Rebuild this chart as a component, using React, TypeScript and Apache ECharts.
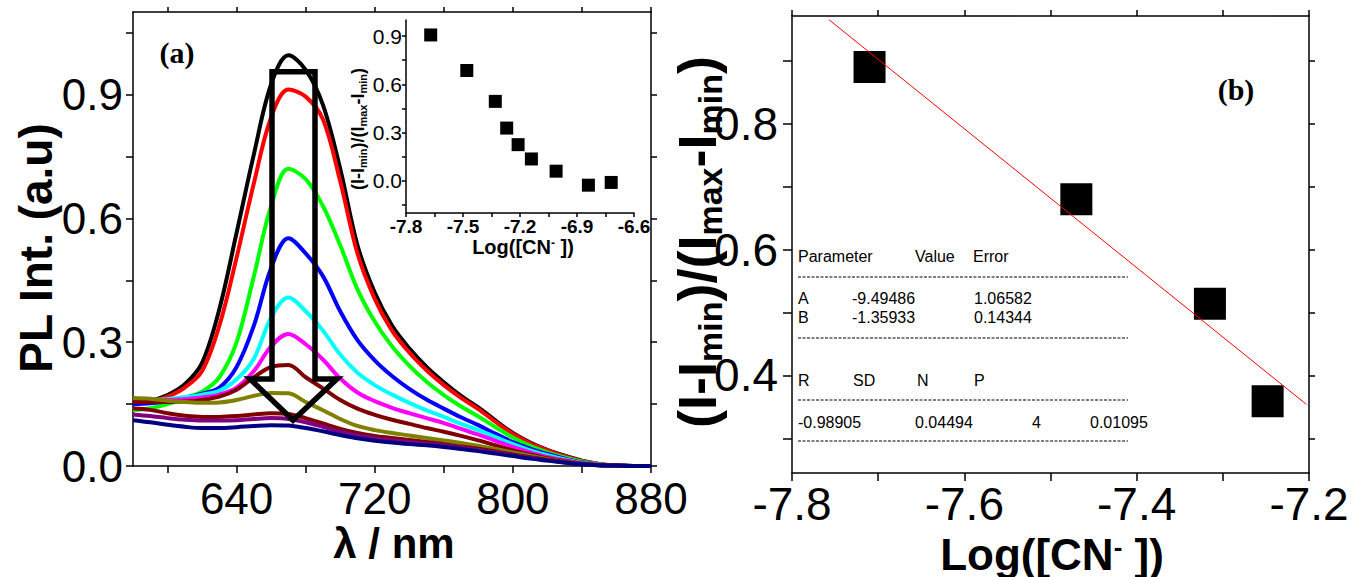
import React, { useEffect, useRef } from "react";
import * as echarts from "echarts";

// ---------- data (panel a: PL spectra) ----------
const WAVELENGTH = [580, 590, 600, 610, 620, 630, 640, 650, 660, 670, 680, 690, 700, 710, 720, 730, 740, 750, 760, 770, 780, 790, 800, 810, 820, 830, 840, 850, 860, 870, 880];
const S_BLACK = [0.150, 0.158, 0.172, 0.198, 0.250, 0.380, 0.565, 0.755, 0.925, 0.995, 0.960, 0.875, 0.720, 0.535, 0.420, 0.340, 0.285, 0.240, 0.203, 0.170, 0.142, 0.110, 0.080, 0.057, 0.039, 0.025, 0.013, 0.005, 0.001, 0, 0];
const S_RED = [0.150, 0.156, 0.168, 0.190, 0.230, 0.340, 0.505, 0.685, 0.845, 0.912, 0.895, 0.840, 0.690, 0.515, 0.405, 0.328, 0.275, 0.232, 0.196, 0.165, 0.138, 0.107, 0.078, 0.055, 0.038, 0.024, 0.012, 0.005, 0.001, 0, 0];
const S_GREEN = [0.135, 0.140, 0.150, 0.165, 0.180, 0.215, 0.300, 0.460, 0.630, 0.720, 0.695, 0.630, 0.535, 0.428, 0.350, 0.290, 0.243, 0.204, 0.172, 0.144, 0.120, 0.094, 0.069, 0.049, 0.033, 0.021, 0.011, 0.004, 0.001, 0, 0];
const S_BLUE = [0.150, 0.152, 0.157, 0.165, 0.175, 0.190, 0.240, 0.340, 0.480, 0.552, 0.515, 0.460, 0.375, 0.305, 0.256, 0.218, 0.187, 0.161, 0.139, 0.118, 0.099, 0.078, 0.058, 0.042, 0.029, 0.018, 0.009, 0.003, 0.001, 0, 0];
const S_CYAN = [0.160, 0.160, 0.162, 0.167, 0.173, 0.182, 0.210, 0.260, 0.360, 0.408, 0.375, 0.328, 0.270, 0.226, 0.196, 0.173, 0.153, 0.135, 0.119, 0.102, 0.087, 0.070, 0.053, 0.038, 0.026, 0.016, 0.008, 0.003, 0.001, 0, 0];
const S_MAGENTA = [0.160, 0.160, 0.160, 0.162, 0.166, 0.173, 0.190, 0.230, 0.290, 0.320, 0.295, 0.258, 0.212, 0.178, 0.157, 0.141, 0.128, 0.116, 0.104, 0.090, 0.076, 0.061, 0.046, 0.033, 0.022, 0.014, 0.007, 0.003, 0.001, 0, 0];
const S_MAROON1 = [0.155, 0.155, 0.155, 0.156, 0.160, 0.168, 0.185, 0.215, 0.240, 0.245, 0.215, 0.188, 0.160, 0.139, 0.124, 0.112, 0.102, 0.092, 0.083, 0.073, 0.062, 0.050, 0.038, 0.028, 0.019, 0.012, 0.006, 0.002, 0.001, 0, 0];
const S_OLIVE = [0.165, 0.163, 0.158, 0.155, 0.153, 0.154, 0.160, 0.170, 0.177, 0.176, 0.155, 0.135, 0.114, 0.097, 0.087, 0.080, 0.074, 0.068, 0.062, 0.056, 0.049, 0.041, 0.033, 0.025, 0.017, 0.011, 0.006, 0.002, 0.001, 0, 0];
const S_MAROON2 = [0.140, 0.136, 0.128, 0.122, 0.119, 0.119, 0.121, 0.125, 0.128, 0.126, 0.116, 0.103, 0.090, 0.080, 0.073, 0.068, 0.063, 0.058, 0.053, 0.047, 0.042, 0.035, 0.028, 0.021, 0.015, 0.010, 0.005, 0.002, 0.001, 0, 0];
const S_PURPLE = [0.125, 0.121, 0.116, 0.112, 0.110, 0.110, 0.111, 0.114, 0.116, 0.114, 0.106, 0.095, 0.083, 0.074, 0.067, 0.062, 0.058, 0.054, 0.050, 0.044, 0.039, 0.033, 0.026, 0.020, 0.014, 0.009, 0.005, 0.002, 0.001, 0, 0];
const S_NAVY = [0.111, 0.106, 0.100, 0.095, 0.092, 0.092, 0.094, 0.097, 0.099, 0.098, 0.092, 0.084, 0.075, 0.067, 0.061, 0.057, 0.053, 0.050, 0.046, 0.041, 0.036, 0.030, 0.024, 0.018, 0.013, 0.008, 0.004, 0.002, 0.001, 0, 0];
const SPECTRA = [S_BLACK, S_RED, S_GREEN, S_BLUE, S_CYAN, S_MAGENTA, S_MAROON1, S_OLIVE, S_MAROON2, S_PURPLE, S_NAVY];
const SPECTRA_COLORS = ["#000000", "#ff0000", "#00ff00", "#0000ff", "#00ffff", "#ff00ff", "#800000", "#808000", "#800000", "#800080", "#000080"];

// arrow annotation (nm, intensity)
const ARROW_X = [660.5, 685.4, 685.4, 698.1, 672.7, 647.8, 660.5, 660.5];
const ARROW_Y = [0.955, 0.955, 0.211, 0.211, 0.111, 0.211, 0.211, 0.955];

// inset
const INSET_X = [-7.67, -7.48, -7.33, -7.27, -7.21, -7.14, -7.01, -6.84, -6.72];
const INSET_Y = [0.907, 0.686, 0.494, 0.328, 0.225, 0.136, 0.06, -0.027, -0.01];

// panel b
const CAL_X = [-7.71, -7.47, -7.315, -7.248];
const CAL_Y = [0.89, 0.68, 0.514, 0.359];
const FIT_X = [-7.757, -7.203];
const FIT_Y = [0.965, 0.354];

// tick values
const A_X_TICKS = [600, 640, 680, 720, 760, 800, 840, 880];
const A_X_LABELS = [640, 720, 800, 880];
const A_Y_TICKS = [0, 0.15, 0.3, 0.45, 0.6, 0.75, 0.9, 1.05];
const A_Y_LABELS = [0, 0.3, 0.6, 0.9];
const IN_X_TICKS = [-7.8, -7.65, -7.5, -7.35, -7.2, -7.05, -6.9, -6.75, -6.6];
const IN_X_LABELS = [-7.8, -7.5, -7.2, -6.9, -6.6];
const IN_Y_TICKS = [-0.15, 0, 0.15, 0.3, 0.45, 0.6, 0.75, 0.9];
const IN_Y_LABELS = [0, 0.3, 0.6, 0.9];
const B_X_TICKS = [-7.8, -7.7, -7.6, -7.5, -7.4, -7.3, -7.2];
const B_X_LABELS = [-7.8, -7.6, -7.4, -7.2];
const B_Y_TICKS = [0.3, 0.4, 0.5, 0.6, 0.7, 0.8, 0.9];
const B_Y_LABELS = [0.4, 0.6, 0.8];

const FONT = "Liberation Sans, Arial, sans-serif";
const SERIF = "Liberation Serif, Times New Roman, serif";

function axisBase(extra: any) {
  const line = { color: "#000", width: 1.5 };
  return {
    type: "value",
    axisLine: { show: true, onZero: false, lineStyle: line },
    splitLine: { show: false },
    ...extra,
  };
}

function tick(values: number[], len: number) {
  return { show: true, inside: false, length: len, customValues: values, lineStyle: { color: "#000", width: 1.5 } };
}

function label(values: number[], size: number, margin: number, bold = false, decimals = 1) {
  return {
    show: true,
    customValues: values,
    fontSize: size,
    fontFamily: FONT,
    fontWeight: bold ? "bold" : "normal",
    color: "#000",
    margin,
    formatter: (v: number) => v.toFixed(decimals),
  };
}

const noLabel = { show: false };

export default function App() {
  const ref = useRef<HTMLDivElement>(null);
  useEffect(() => {
    if (!ref.current) return;
    const chart = echarts.init(ref.current, null, { renderer: "svg" });

    const spectraSeries = SPECTRA.map((arr, k) => ({
      type: "line",
      xAxisIndex: 0,
      yAxisIndex: 0,
      data: WAVELENGTH.map((w, i) => [w, arr[i]]),
      smooth: 0.35,
      showSymbol: false,
      symbol: "none",
      lineStyle: { color: SPECTRA_COLORS[k], width: 4 },
      z: 2 + k * 0.01,
    }));

    const table: any[] = [];
    const t = (text: string, x: number, y: number) =>
      table.push({
        type: "text",
        x,
        y,
        style: { text, fontSize: 16, fontFamily: FONT, fill: "#000", align: "left", verticalAlign: "middle" },
        z: 50,
      });
    const dash = (y: number) =>
      table.push({
        type: "line",
        shape: { x1: 798, y1: y, x2: 1128, y2: y },
        style: { stroke: "#000", lineWidth: 1, lineDash: [3, 1.5] },
        z: 50,
      });
    t("Parameter", 798, 256);
    t("Value", 915, 256);
    t("Error", 973, 256);
    dash(277);
    t("A", 798, 298);
    t("-9.49486", 852, 298);
    t("1.06582", 974, 298);
    t("B", 798, 317);
    t("-1.35933", 852, 317);
    t("0.14344", 974, 317);
    dash(338);
    t("R", 798, 380);
    t("SD", 853, 380);
    t("N", 917, 380);
    t("P", 974, 380);
    dash(400);
    t("-0.98905", 798, 422);
    t("0.04494", 915, 422);
    t("4", 1032, 422);
    t("0.01095", 1090, 422);
    dash(441);

    const option: any = {
      animation: false,
      backgroundColor: "#ffffff",
      grid: [
        { left: 133, top: 12, width: 518, height: 454, outerBoundsMode: "none", containLabel: false },
        { left: 406, top: 20, width: 228, height: 193, outerBoundsMode: "none", containLabel: false },
        { left: 792, top: 16, width: 517, height: 457, outerBoundsMode: "none", containLabel: false },
      ],
      xAxis: [
        axisBase({ gridIndex: 0, position: "bottom", min: 580, max: 880, axisTick: tick(A_X_TICKS, 7), axisLabel: label(A_X_LABELS, 44, 10, false, 0) }),
        axisBase({ gridIndex: 0, position: "top", min: 580, max: 880, axisTick: tick(A_X_TICKS, 5), axisLabel: noLabel }),
        axisBase({ gridIndex: 1, position: "bottom", min: -7.8, max: -6.6, axisTick: tick(IN_X_TICKS, 4), axisLabel: label(IN_X_LABELS, 19, 4, true) }),
        axisBase({ gridIndex: 2, position: "bottom", min: -7.8, max: -7.2, axisTick: tick(B_X_TICKS, 8), axisLabel: label(B_X_LABELS, 46, 8) }),
        axisBase({ gridIndex: 2, position: "top", min: -7.8, max: -7.2, axisTick: tick(B_X_TICKS, 6), axisLabel: noLabel }),
      ],
      yAxis: [
        axisBase({ gridIndex: 0, position: "left", min: 0, max: 1.1, axisTick: tick(A_Y_TICKS, 7), axisLabel: label(A_Y_LABELS, 44, 10) }),
        axisBase({ gridIndex: 0, position: "right", min: 0, max: 1.1, axisTick: tick(A_Y_TICKS, 6), axisLabel: noLabel }),
        axisBase({ gridIndex: 1, position: "left", min: -0.2, max: 1.0, axisTick: tick(IN_Y_TICKS, 4), axisLabel: label(IN_Y_LABELS, 21, 4) }),
        axisBase({ gridIndex: 2, position: "left", min: 0.245, max: 0.971, axisTick: tick(B_Y_TICKS, 9), axisLabel: label(B_Y_LABELS, 46, 14) }),
        axisBase({ gridIndex: 2, position: "right", min: 0.245, max: 0.971, axisTick: tick(B_Y_TICKS, 6), axisLabel: noLabel }),
      ],
      series: [
        ...spectraSeries,
        {
          type: "line",
          xAxisIndex: 0,
          yAxisIndex: 0,
          data: ARROW_X.map((x, i) => [x, ARROW_Y[i]]),
          showSymbol: false,
          symbol: "none",
          smooth: false,
          lineStyle: { color: "#000", width: 5.5, join: "miter", cap: "square" },
          z: 10,
        },
        {
          type: "scatter",
          xAxisIndex: 2,
          yAxisIndex: 2,
          data: INSET_X.map((x, i) => [x, INSET_Y[i]]),
          symbol: "rect",
          symbolSize: 13,
          itemStyle: { color: "#000", opacity: 1 },
          z: 5,
        },
        {
          type: "line",
          xAxisIndex: 3,
          yAxisIndex: 3,
          data: FIT_X.map((x, i) => [x, FIT_Y[i]]),
          showSymbol: false,
          symbol: "none",
          lineStyle: { color: "#ff0000", width: 1 },
          z: 6,
        },
        {
          type: "scatter",
          xAxisIndex: 3,
          yAxisIndex: 3,
          data: CAL_X.map((x, i) => [x, CAL_Y[i]]),
          symbol: "rect",
          symbolSize: 32,
          itemStyle: { color: "#000", opacity: 1 },
          z: 5,
        },
      ],
      graphic: [
        {
          type: "text",
          x: 36,
          y: 248,
          rotation: Math.PI / 2,
          style: { text: "PL Int. (a.u)", fontSize: 46, fontWeight: "bold", fontFamily: FONT, fill: "#000", align: "center", verticalAlign: "middle" },
        },
        {
          type: "text",
          x: 394,
          y: 543,
          style: { text: "λ / nm", fontSize: 42, fontWeight: "bold", fontFamily: FONT, fill: "#000", align: "center", verticalAlign: "middle" },
        },
        {
          type: "text",
          x: 177,
          y: 52,
          style: { text: "(a)", fontSize: 30, fontWeight: "bold", fontFamily: SERIF, fill: "#000", align: "center", verticalAlign: "middle" },
        },
        {
          type: "text",
          x: 1236,
          y: 89,
          style: { text: "(b)", fontSize: 30, fontWeight: "bold", fontFamily: SERIF, fill: "#000", align: "center", verticalAlign: "middle" },
        },
        {
          type: "text",
          x: 363,
          y: 129,
          rotation: Math.PI / 2,
          style: {
            text: "{a|(I-I}{s|min}{a|)/(I}{s|max}{a|-I}{s|min}{a|)}",
            align: "center",
            verticalAlign: "middle",
            rich: {
              a: { fontSize: 18, fontWeight: "bold", fontFamily: FONT, fill: "#000", lineHeight: 18, verticalAlign: "top" },
              s: { fontSize: 11, fontWeight: "bold", fontFamily: FONT, fill: "#000", lineHeight: 28, verticalAlign: "middle" },
            },
          },
        },
        {
          type: "text",
          x: 523,
          y: 247,
          style: {
            text: "{b|Log([CN}{p|-}{b| ])}",
            align: "center",
            verticalAlign: "middle",
            rich: {
              b: { fontSize: 20, fontWeight: "bold", fontFamily: FONT, fill: "#000", lineHeight: 20, verticalAlign: "bottom" },
              p: { fontSize: 12, fontWeight: "bold", fontFamily: FONT, fill: "#000", lineHeight: 16, verticalAlign: "top" },
            },
          },
        },
        {
          type: "text",
          x: 710,
          y: 242,
          rotation: Math.PI / 2,
          style: {
            text: "{a|(I-I}{s|min}{a|)/(I}{s|max}{a|-I}{s|min}{a|)}",
            align: "center",
            verticalAlign: "middle",
            rich: {
              a: { fontSize: 54, fontWeight: "bold", fontFamily: FONT, fill: "#000", lineHeight: 54, verticalAlign: "top" },
              s: { fontSize: 34, fontWeight: "bold", fontFamily: FONT, fill: "#000", lineHeight: 80, verticalAlign: "middle" },
            },
          },
        },
        {
          type: "text",
          x: 1052,
          y: 555,
          style: {
            text: "{b|Log([CN}{p|-}{b| ])}",
            align: "center",
            verticalAlign: "middle",
            rich: {
              b: { fontSize: 44, fontWeight: "bold", fontFamily: FONT, fill: "#000", lineHeight: 42, verticalAlign: "bottom" },
              p: { fontSize: 26, fontWeight: "bold", fontFamily: FONT, fill: "#000", lineHeight: 14, verticalAlign: "top" },
            },
          },
        },
        ...table,
      ],
    };
    chart.setOption(option);
    return () => chart.dispose();
  }, []);
  return <div ref={ref} style={{ position: "absolute", left: 0, top: 0, width: 1352, height: 577 }} />;
}
